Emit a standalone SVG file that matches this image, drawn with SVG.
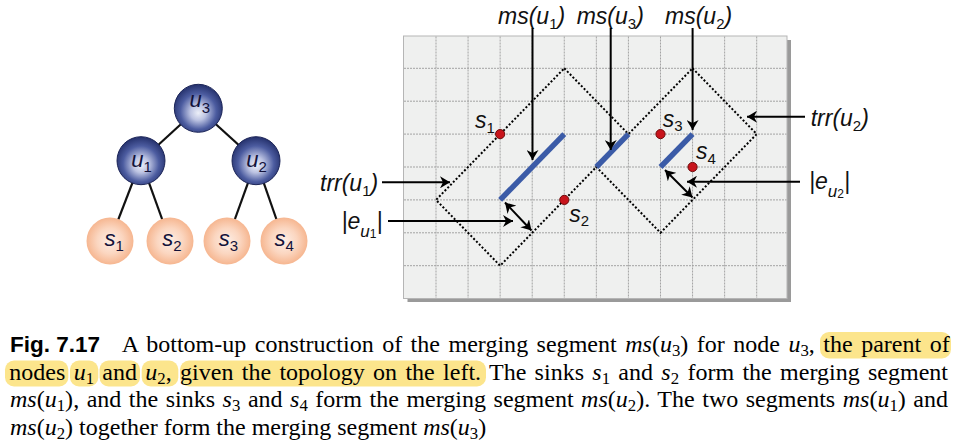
<svg xmlns="http://www.w3.org/2000/svg" width="958" height="445" viewBox="0 0 958 445">
<defs>
<style>
.lbl{font-family:"Liberation Sans",Arial,sans-serif;font-style:italic;font-size:23px;fill:#111}
.nl{font-family:"Liberation Sans",Arial,sans-serif;font-style:italic;font-size:22px;fill:#12123a}
.sb{font-size:15px;font-style:normal}
.sbi{font-size:17px;font-style:italic}
.ssb{font-size:12px;font-style:normal}
.grid line{stroke:#a3a3a3;stroke-width:1;stroke-dasharray:2 1}
.trr{fill:none;stroke:#000;stroke-width:2;stroke-dasharray:2 2}
.ms{stroke:#3b5ba7;stroke-width:5.5}
.sink{fill:#c8141c;stroke:#6e0a0a;stroke-width:1}
.arr{stroke:#000;stroke-width:2;fill:none}
.edge{stroke:#111;stroke-width:2.2}
.cap{font-family:"Liberation Serif","Times New Roman",serif;font-size:24px;fill:#000}
.ci{font-style:italic}
.cs{font-size:16.8px}
.hl{fill:#fce58c}
</style>
<radialGradient id="gu" cx="0.5" cy="0.55" r="0.55" fx="0.5" fy="0.6">
<stop offset="0" stop-color="#eceff8"/>
<stop offset="0.3" stop-color="#bcc3e2"/>
<stop offset="0.68" stop-color="#4c5ca0"/>
<stop offset="1" stop-color="#24306b"/>
</radialGradient>
<radialGradient id="gs" cx="0.5" cy="0.5" r="0.5">
<stop offset="0" stop-color="#fdeee6"/>
<stop offset="0.55" stop-color="#fbd6c0"/>
<stop offset="1" stop-color="#f6b690"/>
</radialGradient>
<marker id="ah" viewBox="0 0 10 12" refX="10" refY="6" markerWidth="10" markerHeight="12" markerUnits="userSpaceOnUse" orient="auto-start-reverse">
<path d="M0,0 L10,6 L0,12 L3,6 Z" fill="#000"/>
</marker>
</defs>

<g id="tree-edges">
<line class="edge" x1="198.3" y1="108.3" x2="141" y2="160.7"/>
<line class="edge" x1="198.3" y1="108.3" x2="256" y2="160.7"/>
<line class="edge" x1="141" y1="160.7" x2="110" y2="241"/>
<line class="edge" x1="141" y1="160.7" x2="170" y2="241"/>
<line class="edge" x1="256" y1="160.7" x2="227" y2="241"/>
<line class="edge" x1="256" y1="160.7" x2="284" y2="241"/>
</g>
<g id="u3"><circle cx="198.3" cy="108.3" r="24" fill="url(#gu)" stroke="#1c2558" stroke-width="1"/><text class="nl" x="189.5" y="107">u<tspan class="sb" dy="5.5">3</tspan></text></g>
<g id="u1"><circle cx="141" cy="160.7" r="24" fill="url(#gu)" stroke="#1c2558" stroke-width="1"/><text class="nl" x="131.2" y="166.7">u<tspan class="sb" dy="5.5">1</tspan></text></g>
<g id="u2"><circle cx="256" cy="160.7" r="24" fill="url(#gu)" stroke="#1c2558" stroke-width="1"/><text class="nl" x="246.2" y="166.7">u<tspan class="sb" dy="5.5">2</tspan></text></g>
<g id="ts1"><circle cx="110" cy="241" r="23.5" fill="url(#gs)"/><text class="nl" x="104.5" y="245.7">s<tspan class="sb" dy="5.5">1</tspan></text></g>
<g id="ts2"><circle cx="170" cy="241" r="23.5" fill="url(#gs)"/><text class="nl" x="162.2" y="245.7">s<tspan class="sb" dy="5.5">2</tspan></text></g>
<g id="ts3"><circle cx="227" cy="241" r="23.5" fill="url(#gs)"/><text class="nl" x="218.8" y="245.7">s<tspan class="sb" dy="5.5">3</tspan></text></g>
<g id="ts4"><circle cx="284" cy="241" r="23.5" fill="url(#gs)"/><text class="nl" x="274.5" y="245.7">s<tspan class="sb" dy="5.5">4</tspan></text></g>

<g id="panel">
<rect x="407.5" y="40" width="383.5" height="262" fill="#9a9a9a"/>
<rect x="403.5" y="36" width="383.5" height="262.5" fill="#eff0ef" stroke="#b5b5b5" stroke-width="1"/>
<g class="grid">
<line x1="436" y1="36.5" x2="436" y2="298"/>
<line x1="468.07" y1="36.5" x2="468.07" y2="298"/>
<line x1="500.14" y1="36.5" x2="500.14" y2="298"/>
<line x1="532.21" y1="36.5" x2="532.21" y2="298"/>
<line x1="564.28" y1="36.5" x2="564.28" y2="298"/>
<line x1="596.35" y1="36.5" x2="596.35" y2="298"/>
<line x1="628.42" y1="36.5" x2="628.42" y2="298"/>
<line x1="660.49" y1="36.5" x2="660.49" y2="298"/>
<line x1="692.56" y1="36.5" x2="692.56" y2="298"/>
<line x1="724.63" y1="36.5" x2="724.63" y2="298"/>
<line x1="756.7" y1="36.5" x2="756.7" y2="298"/>
<line x1="404" y1="68.3" x2="786.5" y2="68.3"/>
<line x1="404" y1="101.2" x2="786.5" y2="101.2"/>
<line x1="404" y1="134.1" x2="786.5" y2="134.1"/>
<line x1="404" y1="167" x2="786.5" y2="167"/>
<line x1="404" y1="199.9" x2="786.5" y2="199.9"/>
<line x1="404" y1="232.8" x2="786.5" y2="232.8"/>
<line x1="404" y1="265.7" x2="786.5" y2="265.7"/>
</g>
</g>

<g id="trr_u1"><polygon class="trr" points="564.28,68.3 628.42,134.1 500.14,265.7 436,199.9"/></g>
<g id="trr_u2"><polygon class="trr" points="692.56,68.3 756.7,134.1 660.49,232.8 596.35,167"/></g>
<g id="ms_u1"><line class="ms" x1="500.14" y1="199.9" x2="564.28" y2="134.1"/></g>
<g id="ms_u3"><line class="ms" x1="596.35" y1="167" x2="628.42" y2="134.1"/></g>
<g id="ms_u2"><line class="ms" x1="660.49" y1="167" x2="692.56" y2="134.1"/></g>
<g id="s1"><circle class="sink" cx="500.14" cy="134.1" r="4.6"/><text class="lbl" font-size="21" x="475" y="128">s<tspan class="sb" dy="4.5">1</tspan></text></g>
<g id="s2"><circle class="sink" cx="564.28" cy="199.9" r="4.6"/><text class="lbl" font-size="21" x="569.3" y="221.7">s<tspan class="sb" dy="4.5">2</tspan></text></g>
<g id="s3"><circle class="sink" cx="660.49" cy="134.1" r="4.6"/><text class="lbl" font-size="21" x="662.7" y="126.7">s<tspan class="sb" dy="4.5">3</tspan></text></g>
<g id="s4"><circle class="sink" cx="692.56" cy="167" r="4.6"/><text class="lbl" font-size="21" x="696" y="159.3">s<tspan class="sb" dy="4.5">4</tspan></text></g>

<g id="labels">
<text class="lbl" x="498" y="23.5">ms(u<tspan class="sb" dy="5">1</tspan><tspan dy="-5">)</tspan></text>
<text class="lbl" x="576.7" y="23.5">ms(u<tspan class="sb" dy="5">3</tspan><tspan dy="-5">)</tspan></text>
<text class="lbl" x="665" y="23.5">ms(u<tspan class="sb" dy="5">2</tspan><tspan dy="-5">)</tspan></text>
<text class="lbl" x="320" y="191">trr(u<tspan class="sb" dy="5">1</tspan><tspan dy="-5">)</tspan></text>
<text class="lbl" x="810.7" y="125.5">trr(u<tspan class="sb" dy="5">2</tspan><tspan dy="-5">)</tspan></text>
<text class="lbl" x="341.5" y="228.5">|e<tspan class="sbi" dy="8">u</tspan><tspan class="ssb" dy="1.5">1</tspan><tspan dy="-9.5">|</tspan></text>
<text class="lbl" x="809" y="188.5">|e<tspan class="sbi" dy="8">u</tspan><tspan class="ssb" dy="1.5">2</tspan><tspan dy="-9.5">|</tspan></text>
</g>

<g id="connectors">
<path class="arr" d="M532.5,28 V160" marker-end="url(#ah)"/>
<path class="arr" d="M610.7,28 V150" marker-end="url(#ah)"/>
<path class="arr" d="M692.6,28 V130" marker-end="url(#ah)"/>
<path class="arr" d="M382,182.3 H450" marker-end="url(#ah)"/>
<path class="arr" d="M388,221 H513" marker-end="url(#ah)"/>
<path class="arr" d="M505,202.5 L531.5,230.5" marker-start="url(#ah)" marker-end="url(#ah)"/>
<path class="arr" d="M805,116.7 H747" marker-end="url(#ah)"/>
<path class="arr" d="M800,181.7 H687" marker-end="url(#ah)"/>
<path class="arr" d="M665,170 L692.5,197.5" marker-start="url(#ah)" marker-end="url(#ah)"/>
</g>

<g id="caption">
<rect class="hl" x="820" y="332" width="131" height="26.5" rx="9"/>
<rect class="hl" x="5" y="360.5" width="63.3" height="26" rx="9"/>
<rect class="hl" x="70" y="360.5" width="28.3" height="26" rx="9"/>
<rect class="hl" x="99.5" y="360.5" width="40.5" height="26" rx="9"/>
<rect class="hl" x="141.7" y="360.5" width="36.6" height="26" rx="9"/>
<rect class="hl" x="180" y="360.5" width="306" height="26" rx="9"/>
<text x="10" y="352.3" font-family="'Liberation Sans',Arial,sans-serif" font-weight="bold" font-size="22.5">Fig. 7.17</text>
<text class="cap" x="121.7" y="352.3" word-spacing="2.4" textLength="828" lengthAdjust="spacing">A bottom-up construction of the merging segment <tspan class="ci">ms</tspan>(<tspan class="ci">u</tspan><tspan class="cs" dy="4">3</tspan><tspan dy="-4">) for node </tspan><tspan class="ci">u</tspan><tspan class="cs" dy="4">3</tspan><tspan dy="-4">, the parent of</tspan></text>
<text class="cap" x="9.3" y="379.8" word-spacing="2.3" textLength="938.7" lengthAdjust="spacing">nodes <tspan class="ci">u</tspan><tspan class="cs" dy="4">1</tspan><tspan dy="-4"> and </tspan><tspan class="ci">u</tspan><tspan class="cs" dy="4">2</tspan><tspan dy="-4">, given the topology on the left. The sinks </tspan><tspan class="ci">s</tspan><tspan class="cs" dy="4">1</tspan><tspan dy="-4"> and </tspan><tspan class="ci">s</tspan><tspan class="cs" dy="4">2</tspan><tspan dy="-4"> form the merging segment</tspan></text>
<text class="cap" x="10" y="407.3" word-spacing="1.5" textLength="938" lengthAdjust="spacing"><tspan class="ci">ms</tspan>(<tspan class="ci">u</tspan><tspan class="cs" dy="4">1</tspan><tspan dy="-4">), and the sinks </tspan><tspan class="ci">s</tspan><tspan class="cs" dy="4">3</tspan><tspan dy="-4"> and </tspan><tspan class="ci">s</tspan><tspan class="cs" dy="4">4</tspan><tspan dy="-4"> form the merging segment </tspan><tspan class="ci">ms</tspan>(<tspan class="ci">u</tspan><tspan class="cs" dy="4">2</tspan><tspan dy="-4">). The two segments </tspan><tspan class="ci">ms</tspan>(<tspan class="ci">u</tspan><tspan class="cs" dy="4">1</tspan><tspan dy="-4">) and</tspan></text>
<text class="cap" x="10" y="434.8"><tspan class="ci">ms</tspan>(<tspan class="ci">u</tspan><tspan class="cs" dy="4">2</tspan><tspan dy="-4">) together form the merging segment </tspan><tspan class="ci">ms</tspan>(<tspan class="ci">u</tspan><tspan class="cs" dy="4">3</tspan><tspan dy="-4">)</tspan></text>
</g>
</svg>
